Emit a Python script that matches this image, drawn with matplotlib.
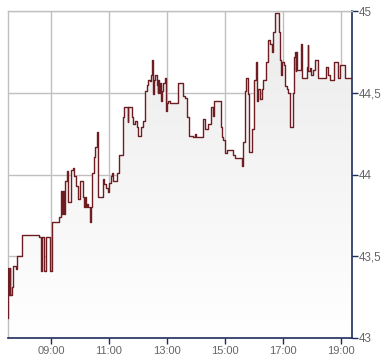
import matplotlib
matplotlib.use("Agg")
import matplotlib.pyplot as plt
import numpy as np
from matplotlib.colors import LinearSegmentedColormap

times = ["07:31", "07:32", "07:34", "07:35", "07:36", "07:40", "07:42", "07:47", "07:50", "08:00",
         "08:36", "08:39", "08:41", "08:46", "08:49", "08:58", "09:03", "09:16", "09:20", "09:22",
         "09:24", "09:26", "09:28", "09:33", "09:35", "09:36", "09:41", "09:46", "09:48", "09:51",
         "09:55", "10:00", "10:06", "10:08", "10:10", "10:12", "10:14", "10:17", "10:21", "10:22",
         "10:25", "10:28", "10:31", "10:35", "10:37", "10:38", "10:48", "10:50", "10:53", "10:57",
         "11:01", "11:04", "11:07", "11:09", "11:16", "11:21", "11:28", "11:32", "11:39", "11:40",
         "11:47", "11:50", "11:54", "11:57", "12:01", "12:06", "12:10", "12:14", "12:18", "12:21",
         "12:25", "12:28", "12:30", "12:31", "12:33", "12:35", "12:39", "12:41", "12:42", "12:43",
         "12:45", "12:47", "12:49", "12:52", "12:56", "12:58", "13:00", "13:03", "13:06", "13:23",
         "13:34", "13:37", "13:42", "13:46", "13:54", "13:58", "14:01", "14:15", "14:19", "14:25",
         "14:31", "14:32", "14:36", "14:38", "14:50", "14:51", "14:54", "14:56", "15:01", "15:05",
         "15:17", "15:21", "15:35", "15:38", "15:41", "15:43", "15:47", "15:50", "15:57", "16:01",
         "16:04", "16:06", "16:08", "16:12", "16:16", "16:19", "16:26", "16:30", "16:33", "16:37",
         "16:40", "16:43", "16:52", "16:55", "16:57", "16:59", "17:03", "17:04", "17:08", "17:11",
         "17:15", "17:20", "17:22", "17:25", "17:27", "17:28", "17:30", "17:37", "17:39", "17:49",
         "17:51", "17:52", "17:56", "17:59", "18:03", "18:06", "18:12", "18:29", "18:34", "18:37",
         "18:46", "18:53", "18:58", "19:08", "19:23"]
prices = [43.12, 43.43, 43.26, 43.43, 43.26, 43.31, 43.44, 43.42, 43.50, 43.63,
          43.62, 43.41, 43.62, 43.41, 43.62, 43.41, 43.71, 43.74, 43.90, 43.76,
          43.90, 43.76, 43.96, 44.02, 43.99, 43.83, 44.03, 44.04, 43.99, 43.93,
          43.85, 43.96, 43.86, 43.80, 43.86, 43.80, 43.82, 43.80, 43.71, 43.80,
          44.01, 44.11, 44.17, 44.26, 44.10, 43.86, 43.97, 43.94, 43.92, 43.89,
          43.95, 43.99, 44.01, 43.96, 44.01, 44.12, 44.35, 44.41, 44.32, 44.41,
          44.35, 44.31, 44.33, 44.29, 44.235, 44.29, 44.33, 44.51, 44.55, 44.58,
          44.57, 44.61, 44.70, 44.49, 44.58, 44.61, 44.55, 44.50, 44.58, 44.50,
          44.56, 44.45, 44.51, 44.56, 44.59, 44.39, 44.44, 44.45, 44.44, 44.56,
          44.48, 44.47, 44.35, 44.235, 44.23, 44.25, 44.23, 44.34, 44.28, 44.31,
          44.36, 44.41, 44.36, 44.45, 44.45, 44.29, 44.23, 44.21, 44.13, 44.15,
          44.12, 44.10, 44.05, 44.20, 44.51, 44.59, 44.49, 44.14, 44.28, 44.58,
          44.69, 44.45, 44.52, 44.46, 44.52, 44.58, 44.69, 44.82, 44.80, 44.75,
          44.87, 44.99, 44.87, 44.70, 44.61, 44.69, 44.67, 44.54, 44.52, 44.50,
          44.29, 44.50, 44.72, 44.75, 44.63, 44.75, 44.64, 44.80, 44.59, 44.66,
          44.79, 44.63, 44.65, 44.61, 44.64, 44.70, 44.59, 44.66, 44.61, 44.58,
          44.69, 44.59, 44.67, 44.59, 44.59]

xtick_hours = [9, 11, 13, 15, 17, 19]
xtick_labels = ["09:00", "11:00", "13:00", "15:00", "17:00", "19:00"]
ytick_vals = [43, 43.5, 44, 44.5, 45]
ytick_labels = ["43", "43,5", "44", "44,5", "45"]

def to_h(t):
    h, m = t.split(":")
    return int(h) + int(m) / 60.0

x = np.array([to_h(t) for t in times])
y = np.array(prices)

fig = plt.figure(figsize=(3.9, 3.64), dpi=100)
ax = fig.add_axes([8 / 390, 26 / 364, 344 / 390, 327 / 364])
xmin, xmax = to_h("07:31"), to_h("19:23")
ax.set_xlim(xmin, xmax)
ax.set_ylim(43, 45)

# gradient fill clipped to area under the line
poly = ax.fill_between(x, y, 43, step="post", facecolor="none", edgecolor="none")
cmap = LinearSegmentedColormap.from_list("g", ["#ffffff", "#ebebeb"])
grad = np.linspace(0, 1, 256).reshape(-1, 1)
im = ax.imshow(grad, cmap=cmap, aspect="auto", origin="lower",
               extent=[xmin, xmax, 43, 45], zorder=1)
im.set_clip_path(poly.get_paths()[0], transform=ax.transData)

ax.step(x, y, where="post", color="#6e1e22", lw=1.0, zorder=3)

ax.set_xticks(xtick_hours)
ax.set_xticklabels(xtick_labels)
ax.set_yticks(ytick_vals)
ax.set_yticklabels(ytick_labels)
ax.yaxis.tick_right()
ax.grid(True, color="#c0c0c0", lw=1)
ax.set_axisbelow(True)

for s in ["left", "top"]:
    ax.spines[s].set_color("#c0c0c0")
    ax.spines[s].set_linewidth(1)
for s in ["right", "bottom"]:
    ax.spines[s].set_color("#1c2d5c")
    ax.spines[s].set_linewidth(1.2)

ax.tick_params(axis="x", direction="out", length=4, width=1, color="#1c2d5c",
               labelsize=8, labelcolor="#666666", pad=2)
ax.tick_params(axis="y", direction="out", length=4, width=1, color="#1c2d5c",
               labelsize=8.3, labelcolor="#666666", pad=1, right=True, left=False)
for lab in ax.get_xticklabels() + ax.get_yticklabels():
    lab.set_fontfamily("Liberation Sans")

fig.savefig("out.png", dpi=100)
